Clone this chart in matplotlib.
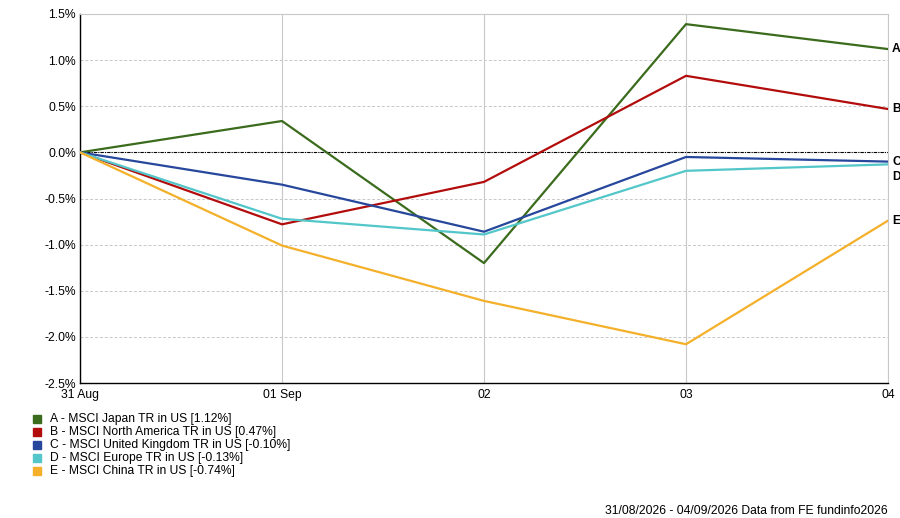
import numpy as np
import matplotlib
matplotlib.use("Agg")
import matplotlib.pyplot as plt
from matplotlib.patches import Rectangle

plt.rcParams['font.family'] = ['Liberation Sans', 'DejaVu Sans']

# data
dates = ["31 Aug", "01 Sep", "02", "03", "04"]
letters = ["A", "B", "C", "D", "E"]
names = ["MSCI Japan TR in US", "MSCI North America TR in US",
         "MSCI United Kingdom TR in US", "MSCI Europe TR in US",
         "MSCI China TR in US"]
finals = ["1.12%", "0.47%", "-0.10%", "-0.13%", "-0.74%"]
japan = [0.0, 0.34, -1.20, 1.39, 1.12]
north_america = [0.0, -0.78, -0.32, 0.83, 0.47]
uk = [0.0, -0.35, -0.86, -0.05, -0.10]
europe = [0.0, -0.72, -0.89, -0.20, -0.13]
china = [0.0, -1.01, -1.61, -2.08, -0.74]
series = [japan, north_america, uk, europe, china]
colors = ["#3b6b1c", "#b20c0c", "#26479c", "#52c6c9", "#f4b02a"]
yticks = [1.5, 1.0, 0.5, 0.0, -0.5, -1.0, -1.5, -2.0, -2.5]

fs = 8.7
fig = plt.figure(figsize=(9, 5.18), dpi=100)
ax = fig.add_axes([80/900, 1-383/518, 808/900, 369/518])
x = np.arange(len(dates))

for i in range(len(series)):
    ax.plot(x, series[i], color=colors[i], lw=1.6, zorder=3)

ax.axhline(0, color="black", lw=0.8, ls=(0, (3, 1, 1, 1)), zorder=2)
ax.set_xlim(0, len(dates)-1)
ax.set_ylim(-2.5, 1.5)
ax.set_yticks(yticks)
ax.set_yticklabels(["%.1f%%" % v for v in yticks], fontsize=fs)
ax.set_xticks(x)
ax.set_xticklabels(dates, fontsize=fs)
ax.tick_params(length=0, pad=3)
ax.tick_params(axis="x", pad=4)
ax.grid(axis="y", color="#c8c8c8", ls=(0, (3, 2)), lw=0.7)
ax.grid(axis="x", color="#c8c8c8", ls="-", lw=0.8)
for s in ["top", "right"]:
    ax.spines[s].set_color("#c8c8c8")
for s in ["left", "bottom"]:
    ax.spines[s].set_color("black")
    ax.spines[s].set_linewidth(1.0)

# end labels
offsets = [0, 0, 0, -9, 0]
for i in range(len(series)):
    ax.annotate(letters[i], (x[-1], series[i][-1]), xytext=(3, offsets[i]),
                textcoords="offset points", va="center", ha="left",
                fontsize=fs, fontweight="bold", annotation_clip=False)

# legend
for i in range(len(series)):
    y = 1 - (419 + 13*i)/518
    fig.patches.append(Rectangle((33/900, y - 4/518), 8/900, 8/518,
                                 transform=fig.transFigure, color=colors[i]))
    fig.text(50/900, y, "%s - %s [%s]" % (letters[i], names[i], finals[i]),
             fontsize=fs, va="center", ha="left")

fig.text(888/900, 1-511/518, "31/08/2026 - 04/09/2026 Data from FE fundinfo2026",
         fontsize=fs, ha="right", va="center")

fig.savefig("out.png", dpi=100)
